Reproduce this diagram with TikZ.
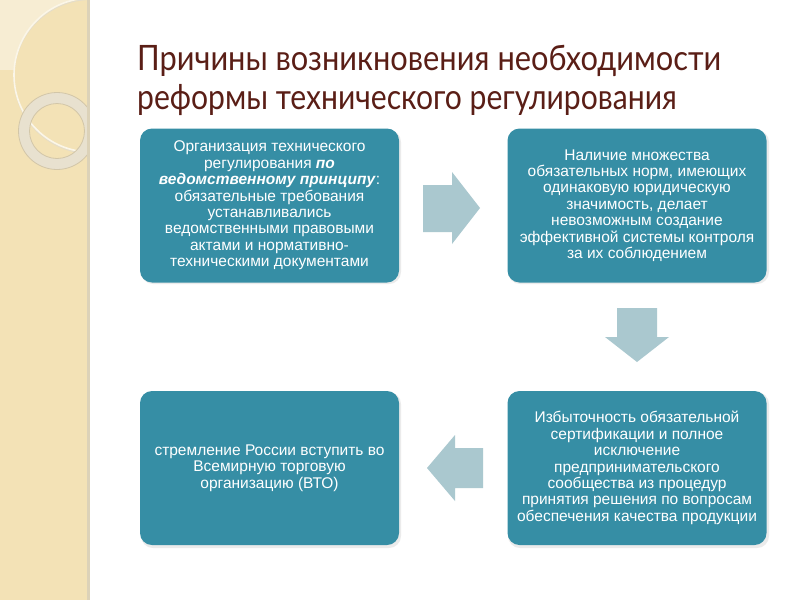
\documentclass[tikz,border=0pt]{standalone}
\usepackage{fontspec}
\setmainfont{Liberation Sans}
\newfontfamily\boxfont{Liberation Sans}
\newfontfamily\titlefont{Lato}
\usetikzlibrary{calc}
\definecolor{strip}{HTML}{F3E2B6}
\definecolor{stripl}{HTML}{F7EDD3}
\definecolor{stripedge}{HTML}{DCD2B8}
\definecolor{ringc}{HTML}{E8E1CF}
\definecolor{ringe}{HTML}{D2C6A8}
\definecolor{circl}{HTML}{FBF6E8}
\definecolor{teal}{HTML}{368EA5}
\definecolor{arrowc}{HTML}{AAC8CF}
\definecolor{titlec}{HTML}{5A1E16}
\tikzset{
  box/.style={draw=none, fill=teal, rounded corners=12pt, minimum width=259pt, minimum height=154pt, inner sep=0pt},
  boxtext/.style={text=white, align=center, inner sep=0pt, font=\boxfont\fontsize{15.5}{16.4}\selectfont},
  blockarrow/.style={fill=arrowc, draw=none},
  shadowc/.style={fill=black, opacity=0.08, rounded corners=12pt},
  titletext/.style={anchor=base west, inner sep=0pt, text=titlec, font=\titlefont\fontsize{35}{40}\selectfont},
}
\begin{document}
\begin{tikzpicture}[x=1pt,y=-1pt]
\useasboundingbox (0,0) rectangle (800,600);
\fill[white] (0,0) rectangle (800,600);
% left strip
\fill[strip] (0,0) rectangle (88,600);
\begin{scope}
  \clip (0,0) rectangle (88,600);
  \fill[stripl] (0,0) rectangle (72,70);
  \fill[strip] (91,75) circle[radius=77];
  \draw[ringe!60, line width=1pt] (91,76.5) circle[radius=77];
  \draw[circl, line width=1.6pt] (91,75) circle[radius=77];
  \draw[ringc, line width=11pt] (57,131) circle[radius=33];
  \draw[ringe, line width=0.8pt] (57,131) circle[radius=38.5];
  \draw[ringe, line width=0.8pt] (57,131) circle[radius=27.5];
\end{scope}
\fill[stripedge] (87,0) rectangle (90,600);
% title
\node[titletext] (title1) at (137,70) {\scalebox{0.88}[1]{Причины возникновения необходимости}};
\node[titletext] (title2) at (137,109) {\scalebox{0.86}[1]{реформы технического регулирования}};
% shadows
\fill[shadowc] (141,130) rectangle (401,284);
\fill[shadowc] (508,130) rectangle (769,284);
\fill[shadowc] (508,392) rectangle (769,548);
\fill[shadowc] (141,392) rectangle (401,548);
% boxes
\node[box] (b1) at (269.5,205.5) {};
\node[box] (b2) at (637,205.5) {};
\node[box] (b3) at (637,468) {};
\node[box] (b4) at (269.5,468) {};
\node[boxtext] (t1) at (b1.center) {Организация технического\\ регулирования \textbf{\textit{по}}\\ \textbf{\textit{ведомственному принципу}}:\\ обязательные требования\\ устанавливались\\ ведомственными правовыми\\ актами и нормативно-\\ техническими документами};
\node[boxtext] (t2) at (b2.center) {Наличие множества\\ обязательных норм, имеющих\\ одинаковую юридическую\\ значимость, делает\\ невозможным создание\\ эффективной системы контроля\\ за их соблюдением};
\node[boxtext] (t3) at (b3.center) {Избыточность обязательной\\ сертификации и полное\\ исключение\\ предпринимательского\\ сообщества из процедур\\ принятия решения по вопросам\\ обеспечения качества продукции};
\node[boxtext] (t4) at (b4.center) {стремление России вступить во\\ Всемирную торговую\\ организацию (ВТО)};
% block arrows
\fill[blockarrow] (423,185) -- (452,185) -- (452,172) -- (480,208) -- (452,244) -- (452,232) -- (423,232) -- cycle;
\fill[blockarrow] (617,308) -- (657,308) -- (657,337) -- (669,337) -- (637,362) -- (605,337) -- (617,337) -- cycle;
\fill[blockarrow] (483,448) -- (455,448) -- (455,435) -- (427,468) -- (455,501) -- (455,488) -- (483,488) -- cycle;
\end{tikzpicture}
\end{document}
